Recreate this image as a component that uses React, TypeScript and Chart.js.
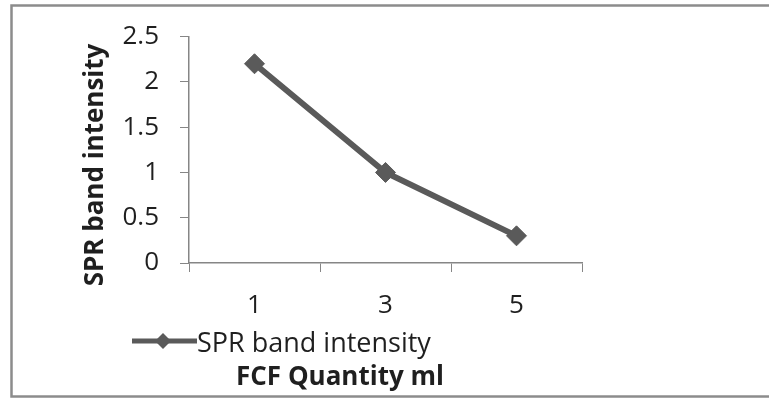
import React, { useEffect, useRef } from "react";
import { Chart, registerables } from "chart.js";

Chart.register(...registerables);

const categories = ["1", "3", "5"];
const seriesName = "SPR band intensity";
const seriesValues = [2.2, 1.0, 0.3];
const yTitle = "SPR band intensity";
const xTitle = "FCF Quantity ml";

const FONT = "'Open Sans', 'Noto Sans', sans-serif";
const LINE = "#5a5a5a";
const AXIS = "#868686";
const TEXT = "#1f1f1f";

const overlay = {
  id: "overlay",
  afterDraw(chart: any) {
    const ctx = chart.ctx as CanvasRenderingContext2D;
    ctx.save();
    // outer border
    ctx.strokeStyle = "#8c8c8c";
    ctx.lineWidth = 2.5;
    ctx.strokeRect(11.5, 5.5, 790, 391);
    // y title
    ctx.fillStyle = TEXT;
    ctx.font = `bold 26px ${FONT}`;
    ctx.textAlign = "center";
    ctx.textBaseline = "alphabetic";
    ctx.save();
    ctx.translate(103, 165);
    ctx.rotate(-Math.PI / 2);
    ctx.fillText(yTitle, 0, 0);
    ctx.restore();
    // x title
    ctx.fillText(xTitle, 340, 385);
    // legend
    const ly = 341;
    ctx.strokeStyle = LINE;
    ctx.lineWidth = 5;
    ctx.beginPath();
    ctx.moveTo(132, ly);
    ctx.lineTo(197, ly);
    ctx.stroke();
    ctx.fillStyle = LINE;
    ctx.beginPath();
    const r = 8;
    ctx.moveTo(163, ly - r);
    ctx.lineTo(163 + r, ly);
    ctx.lineTo(163, ly + r);
    ctx.lineTo(163 - r, ly);
    ctx.closePath();
    ctx.fill();
    ctx.fillStyle = TEXT;
    ctx.font = `27px ${FONT}`;
    ctx.textAlign = "left";
    ctx.fillText(seriesName, 197, 352);
    ctx.restore();
  },
};

export default function App() {
  const ref = useRef<HTMLCanvasElement>(null);
  useEffect(() => {
    if (!ref.current) return;
    const chart = new Chart(ref.current, {
      type: "line",
      data: {
        labels: categories,
        datasets: [
          {
            label: seriesName,
            data: seriesValues,
            borderColor: LINE,
            backgroundColor: LINE,
            borderWidth: 6,
            pointStyle: "rectRot",
            pointRadius: 10,
            pointBorderWidth: 1,
            pointBackgroundColor: LINE,
            pointBorderColor: LINE,
            tension: 0,
          },
        ],
      },
      plugins: [overlay],
      options: {
        responsive: false,
        animation: false,
        layout: { padding: { left: 0, top: 31, right: 187, bottom: 0 } },
        plugins: { legend: { display: false }, tooltip: { enabled: false } },
        scales: {
          x: {
            type: "category",
            offset: true,
            grid: { offset: true, drawOnChartArea: false, drawTicks: true, tickLength: 9, color: AXIS },
            border: { color: AXIS, width: 1.5 },
            ticks: { color: TEXT, font: { family: FONT, size: 26 }, padding: 18 },
            afterFit: (s: any) => { s.height = 136; },
          },
          y: {
            min: 0,
            max: 2.5,
            grid: { drawOnChartArea: false, drawTicks: true, tickLength: 9, color: AXIS },
            border: { color: AXIS, width: 1.5 },
            ticks: {
              stepSize: 0.5,
              color: TEXT,
              font: { family: FONT, size: 26 },
              padding: 21,
              callback: (v: any) => String(v),
            },
            afterFit: (s: any) => { s.width = 189; },
          },
        },
      },
    });
    return () => chart.destroy();
  }, []);
  return (
    <div style={{ position: "fixed", left: 0, top: 0, width: 769, height: 399, background: "#fff" }}>
      <canvas ref={ref} width={769} height={399} />
    </div>
  );
}
